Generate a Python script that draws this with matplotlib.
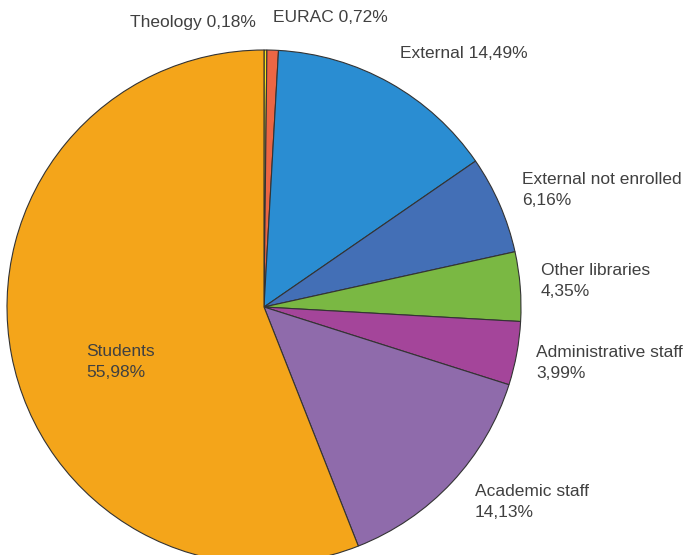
import matplotlib
matplotlib.use("Agg")
import matplotlib.pyplot as plt

# shares clockwise from the top
labels = ["Theology", "EURAC", "External", "External not enrolled",
          "Other libraries", "Administrative staff", "Academic staff", "Students"]
shares = [0.18, 0.72, 14.49, 6.16, 4.35, 3.99, 14.13, 55.98]
colors = ["#F6E31C", "#EB6644", "#2A8DD2", "#436FB6",
          "#7AB843", "#A4459A", "#8F6BAB", "#F4A51A"]

W, H = 685, 555
fig = plt.figure(figsize=(W / 100, H / 100), dpi=100)
ax = fig.add_axes([0, 0, 1, 1])

ax.pie(shares, colors=colors, startangle=90, counterclock=False,
       center=(264, H - 307), radius=257, frame=True,
       wedgeprops=dict(edgecolor="#333333", linewidth=0.8))
ax.set_xlim(0, W)
ax.set_ylim(0, H)
ax.set_aspect("equal")
ax.axis("off")

def pct(v):
    return ("%.2f%%" % v).replace(".", ",")

# label anchors (left x, center y in pixels from top), single or two line
spots = {
    "Theology": (130, 23, False),
    "EURAC": (273, 18, False),
    "External": (400, 53, False),
    "External not enrolled": (522, 190, True),
    "Other libraries": (541, 281, True),
    "Administrative staff": (536, 363, True),
    "Academic staff": (475, 502, True),
    "Students": (86, 362, True),
}

for name, v in zip(labels, shares):
    x, y, two = spots[name]
    txt = name + ("\n" if two else " ") + pct(v)
    ax.text(x, H - y, txt, ha="left", va="center", fontsize=12.5,
            color="#404040", family="Liberation Sans", linespacing=1.42)

fig.savefig("out.png", dpi=100)
